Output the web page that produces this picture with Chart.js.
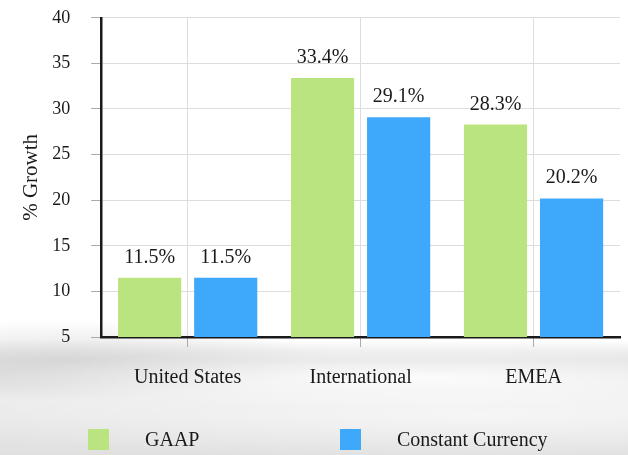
<!DOCTYPE html>
<html>
<head>
<meta charset="utf-8">
<script src="https://cdn.jsdelivr.net/npm/chart.js@4"></script>
<style>
  html, body { margin: 0; padding: 0; }
  body {
    width: 628px; height: 455px; overflow: hidden; position: relative;
    background:
      radial-gradient(ellipse 420px 30px at 420px 378px, rgba(255,255,255,0.85), rgba(255,255,255,0) 100%),
      radial-gradient(ellipse 600px 45px at 480px 415px, rgba(255,255,255,0.6), rgba(255,255,255,0) 100%),
      radial-gradient(ellipse 260px 40px at 60px 360px, rgba(210,210,210,0.7), rgba(210,210,210,0) 100%),
      linear-gradient(to bottom, #ffffff 0px, #ffffff 340px, #e2e2e2 360px, #ebebeb 400px, #e0e0e0 455px);
  }
  #wrap { position: absolute; left: 0; top: -14px; width: 628px; height: 469px; }
  #legend {
    position: absolute; left: 0; top: 428px; width: 628px; height: 24px;
    font-family: "Liberation Serif", "DejaVu Serif", serif; font-size: 20px; color: #1a1a1a;
  }
  .item { position: absolute; top: 0; display: flex; align-items: center; }
  .box { width: 21px; height: 21px; margin-right: 36px; }
</style>
</head>
<body>
<div id="wrap"><canvas id="chart" width="628" height="469"></canvas></div>
<div id="legend"></div>
<script>
const categories = ["United States", "International", "EMEA"];
const seriesNames = ["GAAP", "Constant Currency"];
const gaapValues = [11.5, 33.4, 28.3];
const constantCurrencyValues = [11.5, 29.1, 20.2];
const yTicks = [5, 10, 15, 20, 25, 30, 35, 40];
const colors = ["#b9e47f", "#3ea9fb"];

const serif = "'Liberation Serif', 'DejaVu Serif', serif";

// value labels above each bar
const valueLabels = {
  id: "valueLabels",
  afterDatasetsDraw(chart) {
    const ctx = chart.ctx;
    ctx.save();
    ctx.font = "20px " + serif;
    ctx.fillStyle = "#1a1a1a";
    ctx.textAlign = "center";
    ctx.textBaseline = "alphabetic";
    chart.data.datasets.forEach((ds, i) => {
      chart.getDatasetMeta(i).data.forEach((bar, j) => {
        ctx.fillText(ds.data[j].toFixed(1) + "%", bar.x, bar.y - 15);
      });
    });
    ctx.restore();
  }
};

new Chart(document.getElementById("chart"), {
  type: "bar",
  data: {
    labels: categories,
    datasets: [
      { label: seriesNames[0], data: gaapValues, backgroundColor: colors[0] },
      { label: seriesNames[1], data: constantCurrencyValues, backgroundColor: colors[1] }
    ]
  },
  options: {
    responsive: false,
    animation: false,
    devicePixelRatio: 1,
    categoryPercentage: 0.88,
    barPercentage: 0.83,
    layout: { padding: { top: 0, right: 8, bottom: 46, left: 19 } },
    plugins: {
      legend: { display: false },
      tooltip: { enabled: false }
    },
    scales: {
      x: {
        grid: { offset: false, color: "#dddddd", tickColor: "#aaaaaa", tickLength: 10 },
        border: { color: "#1a1a1a", width: 2.5 },
        ticks: { font: { family: serif, size: 20 }, color: "#1a1a1a", padding: 19 }
      },
      y: {
        min: 5,
        max: 40,
        afterBuildTicks(axis) { axis.ticks = yTicks.map(v => ({ value: v })); },
        grid: { color: "#dddddd", tickColor: "#aaaaaa", tickLength: 10 },
        border: { color: "#1a1a1a", width: 2.5 },
        ticks: { font: { family: serif, size: 18 }, color: "#1a1a1a", padding: 21 },
        title: { display: true, text: "% Growth", font: { family: serif, size: 21 }, color: "#1a1a1a", padding: { top: 0, bottom: -13 } }
      }
    }
  },
  plugins: [valueLabels]
});

const legend = document.getElementById("legend");
const legendX = [88, 340];
seriesNames.forEach((name, i) => {
  const item = document.createElement("div");
  item.className = "item";
  item.style.left = legendX[i] + "px";
  item.innerHTML = `<span class="box" style="background:${colors[i]}"></span><span>${name}</span>`;
  legend.appendChild(item);
});
</script>
</body>
</html>
